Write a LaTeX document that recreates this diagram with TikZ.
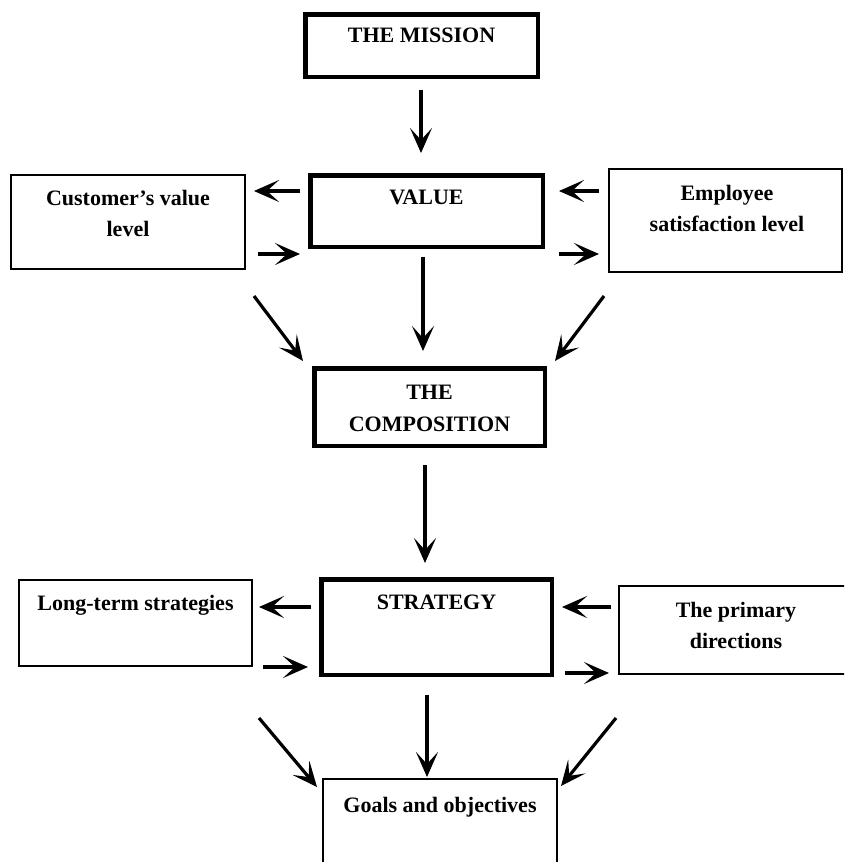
\documentclass[tikz,border=0pt]{standalone}
\usepackage{fontspec}
\setmainfont{Liberation Serif}
\usetikzlibrary{arrows.meta,calc}
\begin{document}
\begin{tikzpicture}[x=1pt,y=-1pt,
  thickbox/.style={draw, line width=4.5pt, rectangle, inner sep=0pt},
  thinbox/.style={draw, line width=2pt, rectangle, inner sep=0pt},
  txt/.style={font=\fontsize{22}{31.5}\selectfont\bfseries, align=center, inner sep=0pt, anchor=north},
  arr/.style={line width=3.2pt, -{Stealth[length=25pt,width=22pt,inset=12pt]}},
  harr/.style={arr, line width=4pt}]
\clip (0,0) rectangle (844,862);
\fill[white] (0,0) rectangle (844,862);

% boxes
\node[thickbox, minimum width=232.5pt, minimum height=62.5pt] (mission) at (421.5,45.5) {};
\node[thickbox, minimum width=232.5pt, minimum height=71.5pt] (value) at (426.5,211) {};
\node[thinbox, minimum width=234pt, minimum height=94pt] (cust) at (128,222) {};
\node[thinbox, minimum width=233pt, minimum height=103pt] (emp) at (725.5,220.5) {};
\node[thickbox, minimum width=230.5pt, minimum height=77.5pt] (comp) at (429.5,407) {};
\node[thickbox, minimum width=230.5pt, minimum height=95.5pt] (strat) at (436.5,627) {};
\node[thinbox, minimum width=233pt, minimum height=86pt] (long) at (135.5,623) {};
\node[thinbox, minimum width=233pt, minimum height=88pt] (prim) at (735.5,630) {};
\node[thinbox, minimum width=234pt, minimum height=100pt] (goals) at (440,829) {};

% texts
\node[txt] (tmission) at (421.5,28) {THE MISSION};
\node[txt] (tvalue) at (426.5,190) {VALUE};
\node[txt] (tcust) at (128,190) {Customer’s value\\level};
\node[txt] (temp) at (727,185) {Employee\\satisfaction level};
\node[txt] (tcomp) at (429.5,385) {THE\\COMPOSITION};
\node[txt] (tstrat) at (436.5,595) {STRATEGY};
\node[txt] (tlong) at (135.5,595) {Long-term strategies};
\node[txt] (tprim) at (736,602) {The primary\\directions};
\node[txt] (tgoals) at (440,797) {Goals and objectives};

% vertical arrows
\draw[arr, shorten <=11pt, shorten >=20pt] ([xshift=-0.5pt]mission.south) -- ([xshift=-0.5pt]mission.south |- value.north);
\draw[arr, shorten <=8pt, shorten >=15pt] ([xshift=-3.5pt]value.south) -- ([xshift=-3.5pt]value.south |- comp.north);
\draw[arr, shorten <=17pt, shorten >=14pt] ([xshift=-4.5pt]comp.south) -- ([xshift=-4.5pt]comp.south |- strat.north);
\draw[arr, shorten <=18pt, shorten >=1pt] ([xshift=-9.5pt]strat.south) -- ([xshift=-9.5pt]strat.south |- goals.north);

% horizontal arrows around VALUE
\draw[harr, shorten <=8pt, shorten >=8pt] ([yshift=20pt]value.west) -- ([yshift=20pt]value.west -| cust.east);
\draw[harr, shorten <=12pt, shorten >=8pt] ([yshift=-43pt]value.west -| cust.east) -- ([yshift=-43pt]value.west);
\draw[harr, shorten <=9pt, shorten >=14pt] ([yshift=20pt]value.east -| emp.west) -- ([yshift=20pt]value.east);
\draw[harr, shorten <=14pt, shorten >=9pt] ([yshift=-43pt]value.east) -- ([yshift=-43pt]value.east -| emp.west);

% horizontal arrows around STRATEGY
\draw[harr, shorten <=8pt, shorten >=6pt] ([yshift=20pt]strat.west) -- ([yshift=20pt]strat.west -| long.east);
\draw[harr, shorten <=10pt, shorten >=11pt] ([yshift=-40pt]strat.west -| long.east) -- ([yshift=-40pt]strat.west);
\draw[harr, shorten <=7pt, shorten >=8pt] ([yshift=20pt]strat.east -| prim.west) -- ([yshift=20pt]strat.east);
\draw[harr, shorten <=11pt, shorten >=9pt] ([yshift=-46pt]strat.east) -- ([yshift=-46pt]strat.east -| prim.west);

% diagonal arrows
\draw[arr] ($(cust.south east)+(8,26)$) -- ($(comp.north west)+(-9,-5)$);
\draw[arr] ($(emp.south west)+(-4,23)$) -- ($(comp.north east)+(8,-5)$);
\draw[arr] ($(long.south east)+(6,51)$) -- ($(goals.north west)+(-5,9)$);
\draw[arr] ($(prim.south west)+(-2,43)$) -- ($(goals.north east)+(3,8)$);
\end{tikzpicture}
\end{document}
